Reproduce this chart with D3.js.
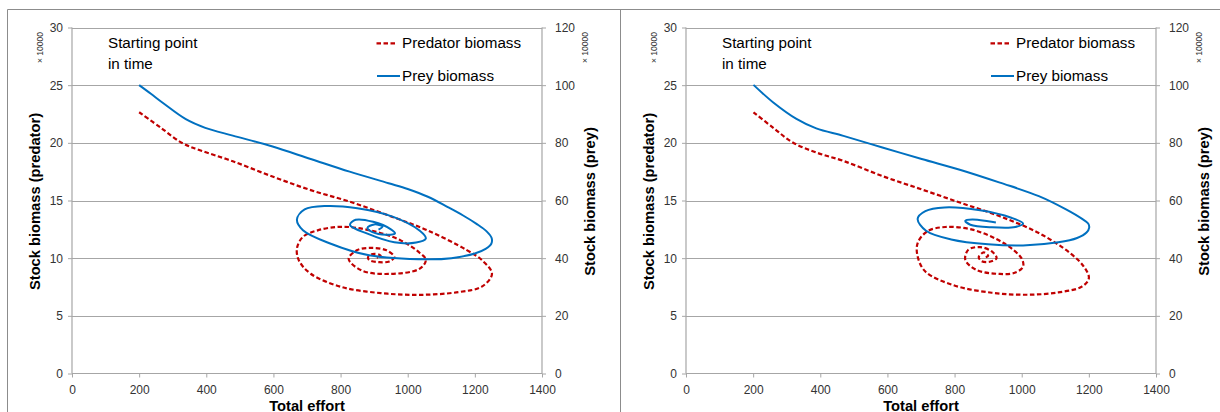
<!DOCTYPE html>
<html>
<head>
<meta charset="utf-8">
<script src="https://cdn.jsdelivr.net/npm/d3@7"></script>
<style>
  html, body { margin: 0; padding: 0; background: #fff; }
  svg { display: block; font-family: "Liberation Sans", Arial, sans-serif; }
</style>
</head>
<body>
<svg id="chart" width="1220" height="412"></svg>
<script>
// Axis ticks (predator stock in units of 10000, prey stock in units of 10000)
const effortTicks = [0, 200, 400, 600, 800, 1000, 1200, 1400];
const predatorTicks = [0, 5, 10, 15, 20, 25, 30];
const preyTicks = [0, 20, 40, 60, 80, 100, 120];

// Scenario A: effort / predator trajectory
const effortPredA = [200, 265, 328, 381, 479, 595, 711, 827, 943, 1060, 1176, 1222, 1251, 1222, 1152, 1036, 920, 804, 711, 676, 670, 688, 734, 804, 885, 978, 1036, 1054, 1036, 943, 862, 824, 850, 891, 935, 960, 945, 915, 885, 882, 895, 915, 920, 908];
const predatorA = [22.65, 21.3, 19.98, 19.36, 18.4, 17.1, 15.9, 14.9, 13.7, 12.4, 10.7, 9.8, 8.65, 7.55, 7.06, 6.82, 6.97, 7.49, 8.65, 9.8, 10.83, 11.85, 12.43, 12.72, 12.43, 11.56, 10.45, 9.85, 9.09, 8.63, 8.94, 9.95, 10.7, 10.89, 10.7, 10.1, 9.72, 9.65, 9.85, 10.1, 10.35, 10.3, 10.12, 10.05];
// Scenario A: effort / prey trajectory
const effortPreyA = [200, 235, 270, 339, 397, 479, 595, 711, 827, 943, 1000, 1060, 1118, 1165, 1205, 1235, 1250, 1249, 1232, 1200, 1130, 1060, 885, 769, 688, 670, 693, 757, 850, 955, 1036, 1054, 1025, 960, 880, 828, 845, 897, 950, 962, 935, 895, 880, 900, 925, 913];
const preyA = [100, 97, 93.9, 88.2, 85.2, 82.5, 78.8, 74.4, 70, 66, 64, 61.3, 57.8, 54.8, 51.9, 49.3, 47.0, 45, 43.2, 41.6, 40.0, 39.6, 41, 45.1, 49.7, 53.4, 56.9, 58.1, 57.3, 54.4, 49.5, 46.8, 45.4, 45.5, 48.5, 51.5, 53.3, 52.6, 50, 48.6, 48.1, 49, 50.5, 51.7, 51, 49.9];

// Scenario B: effort / predator trajectory
const effortPredB = [201, 260, 318, 388, 469, 585, 702, 818, 935, 1051, 1144, 1185, 1200, 1179, 1109, 1016, 911, 795, 713, 690, 690, 719, 772, 853, 946, 999, 1004, 981, 935, 865, 832, 841, 876, 911, 925, 905, 880, 872, 887, 900, 890];
const predatorB = [22.65, 21.3, 20.03, 19.16, 18.43, 17.12, 15.96, 14.8, 13.63, 12.18, 10.44, 9.27, 8.26, 7.53, 7.03, 6.83, 7.0, 7.67, 8.84, 10.15, 11.31, 12.33, 12.7, 12.47, 11.31, 10.0, 9.27, 8.75, 8.63, 8.98, 9.86, 10.73, 10.96, 10.58, 10.0, 9.69, 9.75, 10.1, 10.5, 10.2, 10.05];
// Scenario B: effort / prey trajectory
const effortPreyB = [201, 260, 329, 388, 469, 585, 702, 818, 935, 1051, 1132, 1180, 1198, 1201, 1193, 1165, 1109, 1004, 900, 790, 715, 690, 713, 770, 876, 969, 1004, 981, 911, 847, 832, 853, 900, 923];
const preyB = [100.1, 94, 88.3, 85, 82.4, 78.4, 74.4, 70.6, 66.2, 61.5, 56.9, 53.6, 52, 50.6, 48.9, 47, 45.5, 44.4, 44.8, 46.5, 49.5, 53.6, 56.3, 57.6, 56.6, 54, 52, 50.8, 50.7, 51.6, 53, 53.4, 52.8, 52.4];

const legendLabels = ["Predator biomass", "Prey biomass"];
const leftTitle = "Stock biomass (predator)";
const rightTitle = "Stock biomass (prey)";
const xTitle = "Total effort";
const noteLines = ["Starting point", "in time"];
const unitLabel = "\u00d7 10000";

const RED = "#c00000";
const BLUE = "#0070c0";
const GRID = "#a6a6a6";
const TICK_TEXT = "#333";

const svg = d3.select("#chart");

// Outer chart frames
const frame = svg.append("g").attr("stroke", "#8c8c8c").attr("stroke-width", 1).attr("fill", "none");
frame.append("line").attr("x1", 7.5).attr("x2", 1220).attr("y1", 9.5).attr("y2", 9.5);
frame.append("line").attr("x1", 7.5).attr("x2", 7.5).attr("y1", 9.5).attr("y2", 412);
frame.append("line").attr("x1", 620.5).attr("x2", 620.5).attr("y1", 9.5).attr("y2", 412);

function drawPanel(dx, pred, prey) {
  const g = svg.append("g").attr("transform", `translate(${dx},0)`);
  const x0 = 72, x1 = 542, yTop = 27.5, yBot = 373.5;

  const x = d3.scaleLinear().domain([0, 1400]).range([x0, x1]);
  const yPred = d3.scaleLinear().domain([0, 30]).range([yBot, yTop]);
  const yPrey = d3.scaleLinear().domain([0, 120]).range([yBot, yTop]);

  // horizontal gridlines
  g.append("g").selectAll("line").data(predatorTicks.filter(d => d > 0)).join("line")
    .attr("x1", x0).attr("x2", x1)
    .attr("y1", d => Math.round(yPred(d)) + 0.5).attr("y2", d => Math.round(yPred(d)) + 0.5)
    .attr("stroke", GRID).attr("stroke-width", 1);

  const fmt = d3.format("d");
  // left axis
  const leftAxis = d3.axisLeft(yPred).tickValues(predatorTicks).tickFormat(fmt).tickSize(4).tickPadding(5);
  const gl = g.append("g").attr("transform", `translate(${x0},0)`).call(leftAxis);
  // right axis
  const rightAxis = d3.axisRight(yPrey).tickValues(preyTicks).tickFormat(fmt).tickSize(4).tickPadding(9);
  const gr = g.append("g").attr("transform", `translate(${x1},0)`).call(rightAxis);
  // bottom axis
  const bottomAxis = d3.axisBottom(x).tickValues(effortTicks).tickFormat(fmt).tickSize(4).tickPadding(8);
  const gb = g.append("g").attr("transform", `translate(0,${yBot})`).call(bottomAxis);

  [gl, gr, gb].forEach(ax => {
    ax.select(".domain").attr("stroke", GRID).attr("stroke-width", 1.2);
    ax.selectAll(".tick line").attr("stroke", GRID);
    ax.selectAll(".tick text").attr("fill", TICK_TEXT)
      .style("font-family", "'Liberation Sans', Arial, sans-serif").style("font-size", "12px");
  });
  gl.select(".domain").attr("d", `M0,${yTop}V${yBot}`);
  gr.select(".domain").attr("d", `M0,${yTop}V${yBot}`);
  gb.select(".domain").attr("d", `M${x0},0H${x1}`);

  // trajectories
  const predLine = d3.line().x(d => x(d[0])).y(d => yPred(d[1])).curve(d3.curveCatmullRom.alpha(0.5));
  const preyLine = d3.line().x(d => x(d[0])).y(d => yPrey(d[1])).curve(d3.curveCatmullRom.alpha(0.5));

  g.append("path").datum(d3.zip(pred.effort, pred.value))
    .attr("d", predLine).attr("fill", "none")
    .attr("stroke", RED).attr("stroke-width", 2.2).attr("stroke-dasharray", "4.5,2.5");
  g.append("path").datum(d3.zip(prey.effort, prey.value))
    .attr("d", preyLine).attr("fill", "none")
    .attr("stroke", BLUE).attr("stroke-width", 2);

  // axis titles
  g.append("text").attr("transform", "translate(35,201.5) rotate(-90)")
    .attr("text-anchor", "middle").attr("dominant-baseline", "central")
    .style("font-weight", "bold").style("font-size", "14.7px").text(leftTitle);
  g.append("text").attr("transform", "translate(589.5,201.5) rotate(-90)")
    .attr("text-anchor", "middle").attr("dominant-baseline", "central")
    .style("font-weight", "bold").style("font-size", "14.7px").text(rightTitle);
  g.append("text").attr("x", 307).attr("y", 410.5).attr("text-anchor", "middle")
    .style("font-weight", "bold").style("font-size", "14.7px").text(xTitle);

  // unit multipliers
  [40, 585].forEach(ux => {
    g.append("text").attr("transform", `translate(${ux},47.5) rotate(-90)`)
      .attr("text-anchor", "middle").attr("dominant-baseline", "central")
      .attr("fill", TICK_TEXT).style("font-size", "8.5px").text(unitLabel);
  });

  // annotation
  g.append("text").attr("x", 108).attr("y", 48).style("font-size", "15.2px").text(noteLines[0]);
  g.append("text").attr("x", 108).attr("y", 68.5).style("font-size", "15.2px").text(noteLines[1]);

  // legend
  g.append("line").attr("x1", 376.5).attr("x2", 397.5).attr("y1", 43.3).attr("y2", 43.3)
    .attr("stroke", RED).attr("stroke-width", 2.2).attr("stroke-dasharray", "4.5,2.5");
  g.append("text").attr("x", 402).attr("y", 48.3).style("font-size", "15.2px").text(legendLabels[0]);
  g.append("line").attr("x1", 377).attr("x2", 400).attr("y1", 76).attr("y2", 76)
    .attr("stroke", BLUE).attr("stroke-width", 2);
  g.append("text").attr("x", 402).attr("y", 81).style("font-size", "15.2px").text(legendLabels[1]);
}

drawPanel(0, { effort: effortPredA, value: predatorA }, { effort: effortPreyA, value: preyA });
drawPanel(614, { effort: effortPredB, value: predatorB }, { effort: effortPreyB, value: preyB });
</script>
</body>
</html>
